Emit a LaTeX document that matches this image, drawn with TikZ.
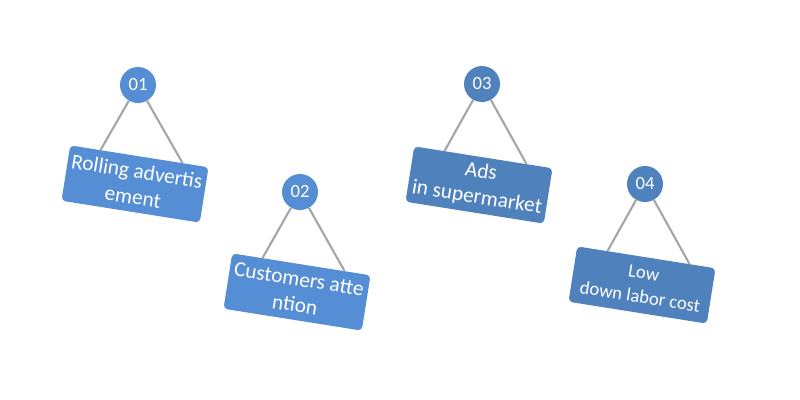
\documentclass[tikz,border=0pt]{standalone}
\usepackage{fontspec}
\setmainfont{Carlito}
\usetikzlibrary{calc}
\definecolor{lightb}{HTML}{558ED5}
\definecolor{darkb}{HTML}{4F81BD}
\definecolor{cord}{HTML}{A6A6A6}
\tikzset{
  x=0.75pt,y=-0.75pt,
  numcirc/.style={circle,minimum size=27pt,inner sep=0pt,text=white,font=\fontsize{14pt}{16pt}\selectfont},
  sign/.style={rectangle,rounded corners=3pt,minimum width=105pt,minimum height=42pt,inner sep=0pt,
    rotate=-9,text=white,align=center,font=\fontsize{16pt}{19.5pt}\selectfont},
  cordline/.style={draw=cord,line width=1.6pt}
}
\begin{document}
\begin{tikzpicture}
\useasboundingbox (0,0) rectangle (800,400);
% signs
\node[sign,fill=lightb] (b1) at (135,184) {Rolling advertis\\ement};
\node[sign,fill=lightb] (b2) at (297,292) {Customers atte\\ntion};
\node[sign,fill=darkb] (b3) at (479,185) {Ads\\in supermarket};
\node[sign,fill=darkb,font=\fontsize{14pt}{18pt}\selectfont] (b4) at (642,285) {Low\\down labor cost};
% circles
\node[numcirc,fill=lightb] (c1) at (138,85) {01};
\node[numcirc,fill=lightb] (c2) at (300,192) {02};
\node[numcirc,fill=darkb] (c3) at (482,84) {03};
\node[numcirc,fill=darkb] (c4) at (645,184) {04};
% cords
\foreach \i in {1,2,3,4}{
  \coordinate (l\i) at ($(b\i.north west)!0.22!(b\i.north east)$);
  \coordinate (r\i) at ($(b\i.north west)!0.81!(b\i.north east)$);
  \draw[cordline] (c\i) -- (l\i);
  \draw[cordline] (c\i) -- (r\i);
}
\end{tikzpicture}
\end{document}
